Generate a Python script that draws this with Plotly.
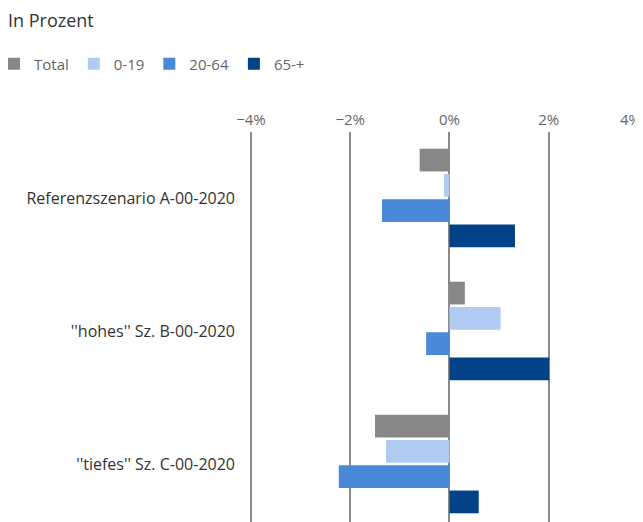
import plotly.graph_objects as go

# scenario labels (top to bottom)
scenarios = ["Referenzszenario A-00-2020", "''hohes'' Sz. B-00-2020", "''tiefes'' Sz. C-00-2020"]

# change in percent, per age group
total = [-0.6, 0.31, -1.5]
age_0_19 = [-0.11, 1.03, -1.28]
age_20_64 = [-1.36, -0.47, -2.23]
age_65_plus = [1.32, 2.01, 0.59]

tick_vals = [-4, -2, 0, 2, 4]
tick_text = ["\u22124%", "\u22122%", "0%", "2%", "4%"]

series = [
    ("Total", total, "#878787"),
    ("0-19", age_0_19, "#b0cbf2"),
    ("20-64", age_20_64, "#4a89d8"),
    ("65-+", age_65_plus, "#004187"),
]

FONT = "Open Sans, Noto Sans, sans-serif"
# the page body has an 8px margin, so the figure is drawn 8px smaller
W, H = 635, 514
L, T = 234, 124
X_RANGE = [-4.18, 3.9]

fig = go.Figure()
for name, vals, color in series:
    fig.add_trace(go.Bar(
        y=scenarios, x=vals, name=name, orientation="h",
        marker=dict(color=color, line=dict(width=0)),
    ))

fig.update_layout(
    width=W, height=H,
    margin=dict(l=L, r=0, t=T, b=0, autoexpand=False),
    paper_bgcolor="white", plot_bgcolor="white",
    font=dict(family=FONT, size=15, color="#666666"),
    barmode="group", bargap=0.24, bargroupgap=0.1,
    title=dict(text="In Prozent", x=0, xref="container", xanchor="left",
               y=1 - 13 / H, yref="container", yanchor="middle",
               font=dict(size=18, color="#333333")),
    legend=dict(orientation="h", xref="paper", x=(-14 - L) / (W - L), xanchor="left",
                yref="container", y=1 - 56 / H, yanchor="middle",
                font=dict(size=15, color="#666666"), traceorder="normal"),
    showlegend=True,
)

fig.update_xaxes(
    side="top", range=X_RANGE, tickvals=tick_vals, ticktext=tick_text,
    showgrid=True, gridcolor="#8a8a8a", gridwidth=1.5,
    zeroline=True, zerolinecolor="#8a8a8a", zerolinewidth=1.5,
    ticks="", ticklabelstandoff=3, showline=False,
    tickfont=dict(size=15, color="#666666"),
)
fig.update_yaxes(
    range=[2.436, -0.496], showgrid=False, zeroline=False, showline=False,
    ticks="", ticklabelstandoff=6, tickfont=dict(size=16, color="#333333"),
)

# the last tick sits just past the right edge; pull its label inside the chart
fig.add_annotation(x=1, y=1, xref="paper", yref="paper", xanchor="right",
                   yanchor="bottom", yshift=1, text=tick_text[-1], showarrow=False,
                   font=dict(size=15, color="#666666"))

fig.write_html("out.html")
